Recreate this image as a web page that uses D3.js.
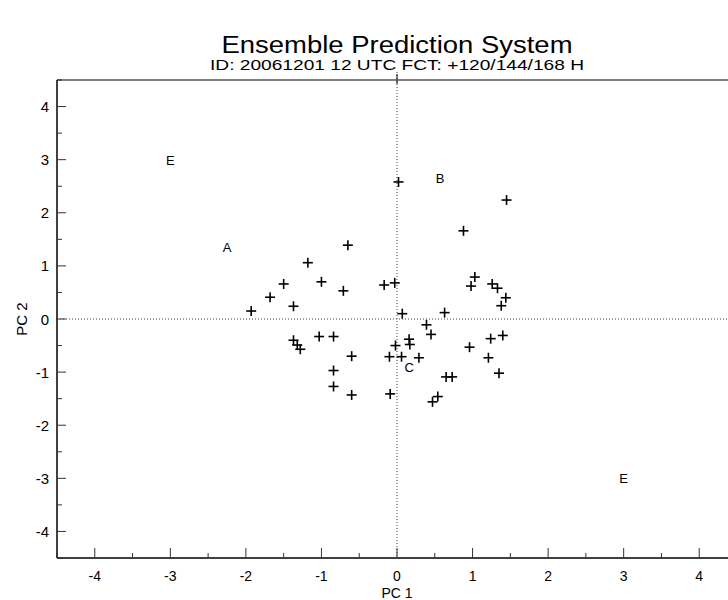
<!DOCTYPE html>
<html><head><meta charset="utf-8">
<script src="https://cdn.jsdelivr.net/npm/d3@7"></script>
<style>body{margin:0;background:#fff}text{font-family:"Liberation Sans",Arial,sans-serif;fill:#000}</style>
</head><body><svg id="c" width="728" height="600"></svg>
<script>
const pcX = [0.02,1.45,0.88,-0.65,-1.18,-1.50,-1.00,-0.71,-0.17,-0.03,-1.68,-1.37,-1.93,0.07,-1.37,-1.32,-1.28,-1.03,-0.84,-0.60,-0.84,-0.84,-0.60,-0.09,-0.10,0.06,-0.02,0.16,0.17,0.29,0.39,0.45,0.54,0.47,0.63,1.03,0.98,1.26,1.33,1.44,1.38,1.24,1.40,0.96,1.21,1.35,0.65,0.73];
const pcY = [2.58,2.24,1.66,1.39,1.06,0.66,0.70,0.53,0.64,0.68,0.41,0.24,0.15,0.10,-0.40,-0.49,-0.57,-0.33,-0.33,-0.70,-0.97,-1.27,-1.43,-1.41,-0.71,-0.71,-0.50,-0.38,-0.48,-0.73,-0.11,-0.29,-1.46,-1.56,0.12,0.79,0.62,0.66,0.58,0.40,0.25,-0.37,-0.31,-0.53,-0.73,-1.02,-1.09,-1.09];
const labelNames = ["E","B","A","C","E"];
const labelX = [-3.0,0.57,-2.25,0.16,3.0];
const labelY = [3.0,2.65,1.35,-0.90,-3.0];
const majorTicks = [-4,-3,-2,-1,0,1,2,3,4];
const minorTicks = [-4.5,-3.5,-2.5,-1.5,-0.5,0.5,1.5,2.5,3.5,4.5];
const title = "Ensemble Prediction System";
const subtitle = "ID: 20061201 12 UTC FCT: +120/144/168 H";

const svg = d3.select("#c");
const x = d3.scaleLinear().domain([-4.5,4.5]).range([57,737]);
const y = d3.scaleLinear().domain([-4.5,4.5]).range([558,80]);
const L = 57, R = 728, T = 80, B = 558;

svg.append("text").attr("x",397).attr("y",53).attr("text-anchor","middle").attr("font-size",23)
  .attr("textLength",351).attr("lengthAdjust","spacingAndGlyphs").text(title);
svg.append("text").attr("x",397).attr("y",70).attr("text-anchor","middle").attr("font-size",14.5)
  .attr("textLength",374).attr("lengthAdjust","spacingAndGlyphs").text(subtitle);

// dotted zero lines
svg.append("line").attr("x1",L).attr("x2",R).attr("y1",y(0)).attr("y2",y(0)).attr("stroke","#444").attr("stroke-dasharray","1,2");
svg.append("line").attr("x1",x(0)).attr("x2",x(0)).attr("y1",72).attr("y2",B).attr("stroke","#444").attr("stroke-dasharray","1,2");
svg.append("line").attr("x1",x(0)).attr("x2",x(0)).attr("y1",74).attr("y2",T+4).attr("stroke","#000");

// frame
svg.append("line").attr("x1",L).attr("x2",R).attr("y1",T).attr("y2",T).attr("stroke","#555").attr("stroke-width",1.5);
svg.append("line").attr("x1",L).attr("x2",L).attr("y1",T).attr("y2",B).attr("stroke","#000").attr("stroke-width",1.5);
svg.append("line").attr("x1",L).attr("x2",R).attr("y1",B).attr("y2",B).attr("stroke","#000").attr("stroke-width",1.5);

// y ticks
svg.selectAll(".ymaj").data(majorTicks).enter().append("line")
  .attr("x1",L).attr("x2",L+9).attr("y1",d=>y(d)).attr("y2",d=>y(d)).attr("stroke","#333");
svg.selectAll(".ymin").data(minorTicks).enter().append("line")
  .attr("x1",L).attr("x2",L+5).attr("y1",d=>y(d)).attr("y2",d=>y(d)).attr("stroke","#333");
svg.selectAll(".ylab").data(majorTicks).enter().append("text")
  .attr("x",L-8).attr("y",d=>y(d)+5.5).attr("text-anchor","end").attr("font-size",15).text(d=>d);
// x ticks
svg.selectAll(".xmaj").data(majorTicks).enter().append("line")
  .attr("x1",d=>x(d)).attr("x2",d=>x(d)).attr("y1",B).attr("y2",B-10).attr("stroke","#333");
svg.selectAll(".xmin").data(minorTicks.filter(d=>x(d)<R)).enter().append("line")
  .attr("x1",d=>x(d)).attr("x2",d=>x(d)).attr("y1",B).attr("y2",B-5).attr("stroke","#333");
svg.selectAll(".xlab").data(majorTicks).enter().append("text")
  .attr("x",d=>x(d)).attr("y",B+23).attr("text-anchor","middle").attr("font-size",14).text(d=>d);

svg.append("text").attr("x",397).attr("y",598).attr("text-anchor","middle").attr("font-size",14).text("PC 1");
svg.append("text").attr("transform","translate(27,"+y(0)+") rotate(-90)").attr("text-anchor","middle").attr("font-size",15).text("PC 2");

// crosses
const pts = pcX.map((v,i)=>[v,pcY[i]]);
const g = svg.append("g").attr("stroke","#000").attr("stroke-width",1.6);
pts.forEach(p=>{
  const cx = x(p[0]), cy = y(p[1]);
  g.append("line").attr("x1",cx-5).attr("x2",cx+5).attr("y1",cy).attr("y2",cy);
  g.append("line").attr("x1",cx).attr("x2",cx).attr("y1",cy-5).attr("y2",cy+5);
});
// letter labels
svg.selectAll(".lbl").data(labelNames).enter().append("text")
  .attr("x",(d,i)=>x(labelX[i])).attr("y",(d,i)=>y(labelY[i])+5).attr("text-anchor","middle")
  .attr("font-size",13).text(d=>d);
</script></body></html>
